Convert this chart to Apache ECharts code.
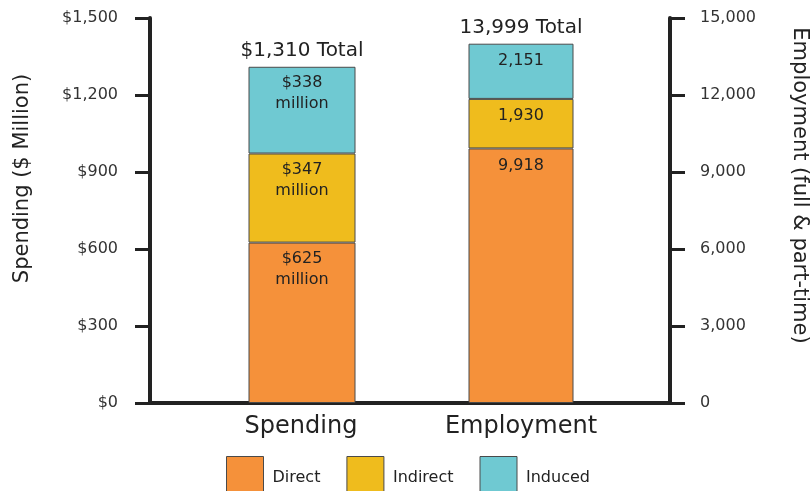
<!DOCTYPE html>
<html>
<head>
<meta charset="utf-8">
<script src="https://cdn.jsdelivr.net/npm/echarts@6/dist/echarts.min.js"></script>
<style>
  html, body { margin: 0; padding: 0; background: #fff; }
  #chart { width: 812px; height: 491px; }
</style>
</head>
<body>
<div id="chart"></div>
<script>
// Economic impact: spending ($ million) and employment (jobs), split by effect type
const categories = ['Spending', 'Employment'];
const effectNames = ['Direct', 'Indirect', 'Induced'];
const spendingValues = [625, 347, 338];      // $ million
const employmentValues = [9918, 1930, 2151]; // full & part-time jobs
const totals = [1310, 13999];

const spendingTicks = { min: 0, max: 1500, interval: 300 };
const employmentTicks = { min: 0, max: 15000, interval: 3000 };

const colors = ['#F5913A', '#EFBC1D', '#6FC9D2'];
const FONT = 'DejaVu Sans';
const INK = '#222';

const fmt = n => n.toLocaleString('en-US');

const series = [];
effectNames.forEach((name, i) => {
  // Spending stack (left axis)
  series.push({
    name, type: 'bar', stack: 'spend', xAxisIndex: 1, yAxisIndex: 2,
    barWidth: 107, barGap: '-100%',
    data: [spendingValues[i], '-'],
    itemStyle: { color: colors[i], borderColor: '#4a4a4a', borderWidth: 1 },
    label: {
      show: true, position: 'insideTop', distance: 6,
      fontFamily: FONT, fontSize: 16, lineHeight: 21, color: INK,
      formatter: p => '$' + fmt(p.value) + '\nmillion'
    }
  });
  // Employment stack (right axis)
  series.push({
    name, type: 'bar', stack: 'emp', xAxisIndex: 1, yAxisIndex: 3,
    barWidth: 105, barGap: '-100%',
    data: ['-', employmentValues[i]],
    itemStyle: { color: colors[i], borderColor: '#4a4a4a', borderWidth: 1 },
    label: {
      show: true, position: 'insideTop', distance: 9,
      fontFamily: FONT, fontSize: 16, color: INK,
      formatter: p => fmt(p.value)
    }
  });
});
// Total captions sitting on top of each stack
series.push({
  name: 'totalSpend', type: 'bar', stack: 'spend', xAxisIndex: 1, yAxisIndex: 2,
  barWidth: 107, barGap: '-100%', data: [0, '-'],
  itemStyle: { color: 'transparent', borderWidth: 0 },
  label: { show: true, position: 'top', distance: 6, fontFamily: FONT, fontSize: 20, color: INK,
           formatter: () => '$' + fmt(totals[0]) + ' Total' }
});
series.push({
  name: 'totalEmp', type: 'bar', stack: 'emp', xAxisIndex: 1, yAxisIndex: 3,
  barWidth: 105, barGap: '-100%', data: ['-', 0],
  itemStyle: { color: 'transparent', borderWidth: 0 },
  label: { show: true, position: 'top', distance: 6, fontFamily: FONT, fontSize: 20, color: INK,
           formatter: () => fmt(totals[1]) + ' Total' }
});

const tickLabel = { fontFamily: FONT, fontSize: 16, color: '#333' };

const option = {
  animation: false,
  textStyle: { fontFamily: FONT },
  grid: [
    { left: 150, right: 142, top: 18, bottom: 88, outerBoundsMode: 'none' },
    { left: 191, right: 181, top: 18, bottom: 88, outerBoundsMode: 'none' }
  ],
  xAxis: [
    { gridIndex: 0, type: 'category', data: [''],
      axisLine: { lineStyle: { color: INK, width: 4 } },
      axisTick: { show: false }, axisLabel: { show: false } },
    { gridIndex: 1, type: 'category', data: categories,
      axisLine: { show: false }, axisTick: { show: false },
      axisLabel: { fontFamily: FONT, fontSize: 24, color: INK, margin: 12 } }
  ],
  yAxis: [
    { gridIndex: 0, type: 'value', position: 'left', ...spendingTicks,
      name: 'Spending ($ Million)', nameLocation: 'middle', nameGap: 117, nameRotate: 90,
      nameTextStyle: { fontFamily: FONT, fontSize: 21, color: INK, padding: [0, 0, 0, 64] },
      axisLine: { show: true, lineStyle: { color: INK, width: 4 } },
      axisTick: { show: true, length: 15, lineStyle: { color: INK, width: 3 } },
      splitLine: { show: false },
      axisLabel: { ...tickLabel, margin: 32, formatter: v => '$' + fmt(v) } },
    { gridIndex: 0, type: 'value', position: 'right', ...employmentTicks,
      name: 'Employment (full & part-time)', nameLocation: 'middle', nameGap: 119, nameRotate: -90,
      nameTextStyle: { fontFamily: FONT, fontSize: 21, color: INK, padding: [0, 50, 0, 0] },
      axisLine: { show: true, lineStyle: { color: INK, width: 4 } },
      axisTick: { show: true, length: 15, lineStyle: { color: INK, width: 3 } },
      splitLine: { show: false },
      axisLabel: { ...tickLabel, margin: 30, formatter: v => fmt(v) } },
    { gridIndex: 1, type: 'value', ...spendingTicks, show: false },
    { gridIndex: 1, type: 'value', ...employmentTicks, show: false }
  ],
  legend: {
    data: effectNames.map(n => ({ name: n, icon: 'rect' })),
    top: 456, left: 226, padding: 0,
    itemWidth: 37, itemHeight: 42, itemGap: 26,
    itemStyle: { borderColor: '#4a4a4a', borderWidth: 1 },
    textStyle: { fontFamily: FONT, fontSize: 16, color: INK, padding: [0, 0, 0, 4] }
  },
  series
};

echarts.init(document.getElementById('chart')).setOption(option);
</script>
</body>
</html>
